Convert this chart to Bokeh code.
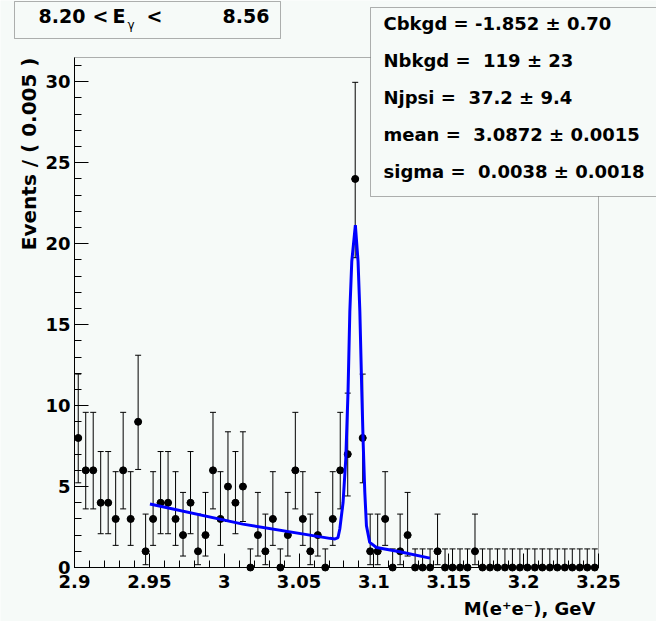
import math
from bokeh.plotting import figure
from bokeh.models import (Range1d, Label, BoxAnnotation, Whisker, ColumnDataSource,
                          TeeHead, FixedTicker)
from bokeh.embed import file_html
from bokeh.resources import INLINE

# ---------------- data ----------------
x_lo, x_hi = 2.9, 3.25
bin_width = 0.005
counts = [8, 6, 6, 4, 4, 3, 6, 3, 9, 1,
          3, 4, 4, 3, 2, 4, 1, 2, 6, 3,
          5, 4, 5, 0, 2, 1, 3, 0, 2, 6,
          3, 1, 2, 0, 3, 6, 7, 24, 8, 1,
          1, 3, 0, 1, 2, 0, 0, 0, 1, 0,
          0, 0, 0, 1, 0, 0, 0, 0, 0, 0,
          0, 0, 0, 0, 0, 0, 0, 0, 0, 0]

# fitted curve
curve_x = [2.9504, 3.0124, 3.0705, 3.0740, 3.0760, 3.0772, 3.0794, 3.0812, 3.0827,
           3.0839, 3.0852, 3.0876, 3.0894, 3.0906, 3.0919, 3.0928, 3.0939, 3.0950,
           3.0972, 3.1017, 3.1173, 3.1374]
curve_y = [3.92, 2.68, 1.80, 1.76, 1.85, 2.38, 4.03, 6.71, 10.85,
           15.8, 18.9, 21.14, 18.9, 15.8, 10.85, 7.75, 4.65, 2.58,
           1.55, 1.24, 0.97, 0.58]

x_tick_values = [2.9, 2.95, 3.0, 3.05, 3.1, 3.15, 3.2, 3.25]
x_tick_labels = ["2.9", "2.95", "3", "3.05", "3.1", "3.15", "3.2", "3.25"]
y_tick_values = [0, 5, 10, 15, 20, 25, 30]

e_lo, e_hi = "8.20", "8.56"
stat_lines = ["Cbkgd = -1.852 \u00b1 0.70",
              "Nbkgd = \u00a0119 \u00b1 23",
              "Njpsi = \u00a037.2 \u00b1 9.4",
              "mean = \u00a03.0872 \u00b1 0.0015",
              "sigma = \u00a00.0038 \u00b1 0.0018"]
y_title = "Events / ( 0.005 )"
x_title = "M(e\u207ae\u207b), GeV"

# ------------- Poisson error bars (68.27% central intervals) -------------
CL = 0.682689
ALPHA = (1 - CL) / 2


def pois_cdf(n, mu):
    s, term = 0.0, math.exp(-mu)
    for k in range(n + 1):
        if k > 0:
            term *= mu / k
        s += term
    return s


def bisect(f, a, b):
    for _ in range(100):
        m = 0.5 * (a + b)
        if f(a) * f(m) <= 0:
            b = m
        else:
            a = m
    return 0.5 * (a + b)


lo, hi = [], []
for n in counts:
    if n == 0:
        lo.append(0.0)
        hi.append(-math.log(1 - CL))
    else:
        lo.append(bisect(lambda mu: (1 - pois_cdf(n - 1, mu)) - ALPHA, 0.0, float(n)))
        hi.append(bisect(lambda mu: pois_cdf(n, mu) - ALPHA, float(n), 3.0 * n + 10))

centers = [x_lo + bin_width * (i + 0.5) for i in range(len(counts))]
src = ColumnDataSource(dict(x=centers, y=counts, lo=lo, hi=hi,
                            x0=[c - bin_width / 2 for c in centers],
                            x1=[c + bin_width / 2 for c in centers]))

# ---------------- figure ----------------
BG = "#f6faf8"
FONT = "DejaVu Sans"
y_max = 31.5
W, H = 656, 621

# reference-pixel helpers (reference frame: x 82..606 -> 2.9..3.25, y 575..65 -> 0..31.5)
def xd(X):
    return x_lo + (X - 82) * (x_hi - x_lo) / 524.0


def yd(Y):
    return (575 - Y) * y_max / 510.0


p = figure(width=W, height=H, output_backend="svg", toolbar_location=None,
           x_range=Range1d(xd(8), xd(8 + W)), y_range=Range1d(yd(8 + H), yd(8)),
           min_border_left=0, min_border_right=0, min_border_top=0, min_border_bottom=0)
p.background_fill_color = BG
p.border_fill_color = BG
p.outline_line_color = None
p.grid.visible = False

minor_x = [round(2.9 + 0.01 * i, 3) for i in range(36)]
p.xaxis.ticker = FixedTicker(ticks=x_tick_values, minor_ticks=minor_x)
p.xaxis.major_label_overrides = dict(zip(x_tick_values, x_tick_labels))
p.yaxis.ticker = FixedTicker(ticks=y_tick_values, minor_ticks=list(range(0, 32)))
p.xaxis.fixed_location = 0
p.yaxis.fixed_location = x_lo
p.xaxis.bounds = (x_lo, x_hi)
p.yaxis.bounds = (0, y_max)
for ax in (p.xaxis, p.yaxis):
    ax.major_tick_in = 14
    ax.major_tick_out = 0
    ax.minor_tick_in = 7
    ax.minor_tick_out = 0
    ax.axis_line_color = "black"
    ax.major_tick_line_color = "black"
    ax.minor_tick_line_color = "black"
    ax.major_label_text_font = FONT
    ax.major_label_text_font_style = "bold"
    ax.major_label_text_font_size = "18px"
    ax.major_label_text_color = "black"
p.xaxis.major_label_standoff = 7
p.yaxis.major_label_standoff = 4

# frame box (top and right edges)
p.add_layout(BoxAnnotation(left=x_lo, right=x_hi, bottom=0, top=y_max,
                           fill_alpha=0, line_color="black", line_width=1))

# error bars
p.segment(x0="x0", x1="x1", y0="y", y1="y", source=src, line_color="black", line_width=1)
p.add_layout(Whisker(base="x", lower="lo", upper="hi", source=src, line_color="black",
                     line_width=1,
                     upper_head=TeeHead(size=6, line_color="black", line_width=1),
                     lower_head=TeeHead(size=6, line_color="black", line_width=1)))
p.scatter("x", "y", source=src, size=7, color="black")

# fit curve
p.line(curve_x, curve_y, line_color="#0000ff", line_width=3)

lab = dict(text_font=FONT, text_font_style="bold", text_color="black")

# title box
p.add_layout(BoxAnnotation(left=xd(22), right=xd(288), top=yd(9), bottom=yd(46),
                           fill_color=BG, fill_alpha=1, line_color="black", line_width=1))
for X, s in ((46, e_lo), (100, "<"), (120, "E"), (154, "<")):
    p.add_layout(Label(x=xd(X), y=yd(23), text=s, text_align="left",
                       text_baseline="middle", text_font_size="19px", **lab))
p.add_layout(Label(x=xd(135), y=yd(32), text="\u03b3", text_align="left",
                   text_baseline="middle", text_font_size="12px",
                   text_font=FONT, text_color="black"))
p.add_layout(Label(x=xd(277), y=yd(23), text=e_hi, text_align="right",
                   text_baseline="middle", text_font_size="19px", **lab))

# stats box
p.add_layout(BoxAnnotation(left=xd(378), right=xd(700), top=yd(15), bottom=yd(204),
                           fill_color=BG, fill_alpha=1, line_color="black", line_width=1))
for k, s in enumerate(stat_lines):
    p.add_layout(Label(x=xd(391), y=yd(31 + 37 * k), text=s, text_align="left",
                       text_baseline="middle", text_font_size="18px", **lab))

# axis titles
p.add_layout(Label(x=xd(36), y=yd(65), text=y_title, angle=math.pi / 2,
                   text_align="right", text_baseline="middle", text_font_size="20px", **lab))
p.add_layout(Label(x=xd(603), y=yd(616), text=x_title, text_align="right",
                   text_baseline="middle", text_font_size="18px", **lab))

open("out.html", "w").write(file_html(p, INLINE))
